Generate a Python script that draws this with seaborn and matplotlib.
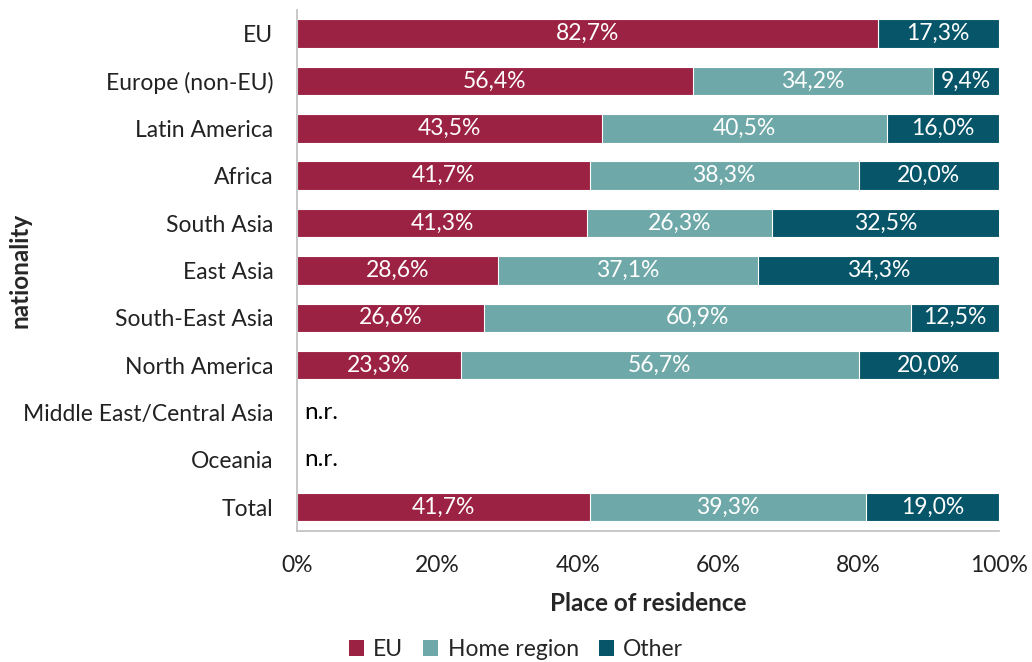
import numpy as np
import pandas as pd
import matplotlib
matplotlib.use("Agg")
import matplotlib.pyplot as plt
import seaborn as sns
from matplotlib.patches import Patch

categories = ["EU", "Europe (non-EU)", "Latin America", "Africa", "South Asia",
              "East Asia", "South-East Asia", "North America",
              "Middle East/Central Asia", "Oceania", "Total"]
eu_share = [82.7, 56.4, 43.5, 41.7, 41.3, 28.6, 26.6, 23.3, np.nan, np.nan, 41.7]
home_share = [0.0, 34.2, 40.5, 38.3, 26.3, 37.1, 60.9, 56.7, np.nan, np.nan, 39.3]
other_share = [17.3, 9.4, 16.0, 20.0, 32.5, 34.3, 12.5, 20.0, np.nan, np.nan, 19.0]
x_ticks = [0, 20, 40, 60, 80, 100]

series_names = ["EU", "Home region", "Other"]
colors = ["#9B2242", "#6FA8A8", "#065569"]

sns.set_theme(style="white")
plt.rcParams["font.family"] = ["Lato", "DejaVu Sans"]

df = pd.DataFrame({"nationality": categories, "EU": eu_share,
                   "Home region": home_share, "Other": other_share})
df["c1"] = df["EU"]
df["c2"] = df["EU"] + df["Home region"]
df["c3"] = df["c2"] + df["Other"]

fig = plt.figure(figsize=(10.32, 6.62), dpi=100)
ax = fig.add_axes([0.2878, 0.198, 0.6802, 0.787])

# stacked bars drawn as cumulative layers, back to front
for col, color in zip(["c3", "c2", "c1"], colors[::-1]):
    sns.barplot(data=df, x=col, y="nationality", orient="h", color=color,
                width=0.6, edgecolor="white", linewidth=0.8, saturation=1,
                ax=ax, order=categories)

fs = 16.5
for i, row in df.iterrows():
    if np.isnan(row["EU"]):
        ax.text(1.1, i, "n.r.", ha="left", va="center", fontsize=fs + 1, color="black")
        continue
    left = 0.0
    for name in series_names:
        v = row[name]
        if v > 0:
            ax.text(left + v / 2, i, f"{v:.1f}%".replace(".", ","), ha="center",
                    va="center", fontsize=fs, color="white")
        left += v

ax.set_xlim(0, 100)
ax.set_ylim(len(categories) - 0.5, -0.5)
ax.set_xticks(x_ticks)
ax.set_xticklabels([f"{t}%" for t in x_ticks], fontsize=fs, color="#222222")
ax.set_yticks(range(len(categories)))
ax.set_yticklabels(categories, fontsize=fs, color="#222222")
ax.tick_params(axis="y", length=0, pad=17)
ax.tick_params(axis="x", length=0, pad=17)

# boundary ticks between categories
ax.set_yticks(np.arange(-0.5, len(categories), 1.0), minor=True)
ax.tick_params(axis="y", which="minor", length=8, color="#BFBFBF", width=1.2)
ax.set_xticks(x_ticks, minor=True)
ax.tick_params(axis="x", which="minor", length=8, color="#BFBFBF", width=1.2)

for s in ["top", "right"]:
    ax.spines[s].set_visible(False)
for s in ["left", "bottom"]:
    ax.spines[s].set_color("#BFBFBF")
    ax.spines[s].set_linewidth(1.2)

ax.set_xlabel("Place of residence", fontsize=fs + 1, fontweight="bold", labelpad=12)
ax.set_ylabel("nationality", fontsize=fs + 1, fontweight="bold")
ax.yaxis.set_label_coords(-0.378, 0.5)

handles = [Patch(facecolor=c, edgecolor="none") for c in colors]
fig.legend(handles, series_names, loc="lower center", bbox_to_anchor=(0.5, -0.028),
           ncol=3, frameon=False, fontsize=fs, handlelength=0.65, handleheight=0.65,
           handletextpad=0.4, columnspacing=0.9)

fig.savefig("out.png", dpi=100)
